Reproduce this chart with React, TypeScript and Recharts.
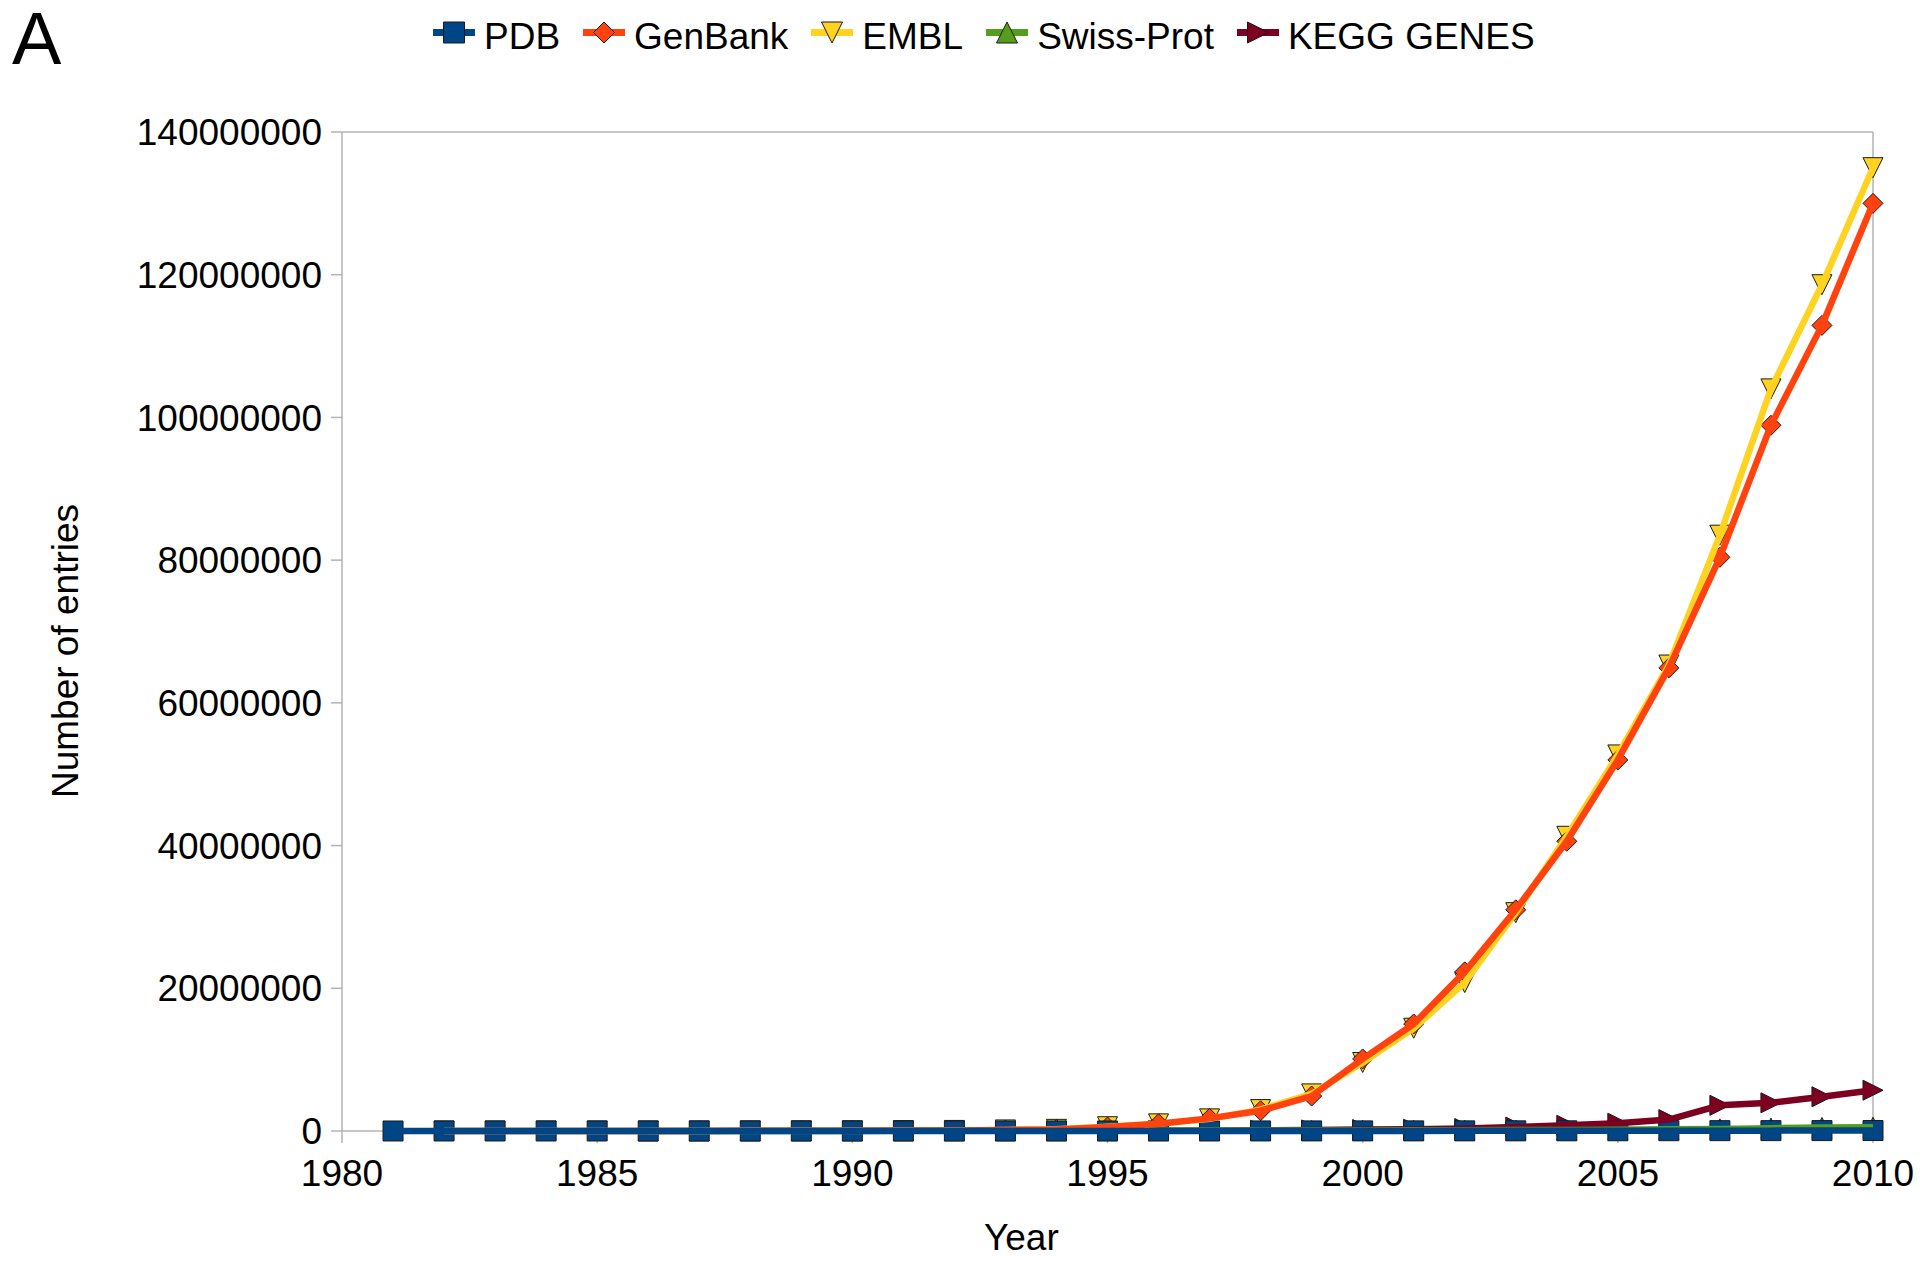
import React from 'react';
import { LineChart, Line, XAxis, YAxis, ReferenceLine } from 'recharts';

const years = [
  1981, 1982, 1983, 1984, 1985, 1986, 1987, 1988, 1989, 1990,
  1991, 1992, 1993, 1994, 1995, 1996, 1997, 1998, 1999, 2000,
  2001, 2002, 2003, 2004, 2005, 2006, 2007, 2008, 2009, 2010,
];

const pdb = [
  180, 200, 230, 250, 270, 300, 350, 400, 500, 750,
  1000, 1200, 1700, 3000, 4100, 5800, 7300, 9600, 12000, 14300,
  17000, 19500, 23000, 28000, 33000, 40000, 46000, 52000, 59000, 66000,
];

const genbank = [
  null, 600, 2400, 4200, 5700, 10000, 14600, 20600, 28800, 39500,
  55600, 78600, 143000, 215000, 560000, 1020000, 1770000, 2840000, 4900000, 10100000,
  15000000, 22300000, 31000000, 40600000, 52000000, 64900000, 80400000, 98900000, 112900000, 130000000,
];

const embl = [
  null, 600, 2400, 4200, 5800, 10000, 15000, 21000, 29000, 40000,
  56000, 80000, 150000, 230000, 600000, 1000000, 1700000, 3000000, 5200000, 9600000,
  14400000, 20800000, 30600000, 41300000, 52700000, 65300000, 83500000, 104000000, 118600000, 135000000,
];

const swissprot = [
  null, null, null, null, null, 3900, 6000, 8700, 12300, 15400,
  18400, 22600, 28100, 33300, 43500, 52200, 59000, 69100, 78000, 86600,
  95000, 110000, 130000, 150000, 180000, 230000, 290000, 400000, 500000, 520000,
];

const kegg = [
  null, null, null, null, null, null, null, null, null, null,
  null, null, null, null, null, 20000, 50000, 100000, 150000, 200000,
  250000, 350000, 550000, 800000, 1100000, 1600000, 3600000, 3950000, 4800000, 5720000,
];

const xTicks = [1980, 1985, 1990, 1995, 2000, 2005, 2010];
const yTicks = [0, 20000000, 40000000, 60000000, 80000000, 100000000, 120000000, 140000000];

const series = [
  { key: 'pdb', name: 'PDB', color: '#004586', shape: 'square' },
  { key: 'genbank', name: 'GenBank', color: '#ff420e', shape: 'diamond' },
  { key: 'embl', name: 'EMBL', color: '#ffd320', shape: 'down' },
  { key: 'swissprot', name: 'Swiss-Prot', color: '#579d1c', shape: 'up' },
  { key: 'kegg', name: 'KEGG GENES', color: '#7e0021', shape: 'right' },
];

const data = years.map((year, i) => ({
  year,
  pdb: pdb[i],
  genbank: genbank[i],
  embl: embl[i],
  swissprot: swissprot[i],
  kegg: kegg[i],
}));

const FONT = '"Liberation Sans", Arial, sans-serif';
const GRAY = '#b3b3b3';

const markerPath = (shape: string, cx: number, cy: number, r: number) => {
  switch (shape) {
    case 'square':
      return `M${cx - r},${cy - r}H${cx + r}V${cy + r}H${cx - r}Z`;
    case 'diamond':
      return `M${cx},${cy - r}L${cx + r},${cy}L${cx},${cy + r}L${cx - r},${cy}Z`;
    case 'down':
      return `M${cx - r},${cy - r}L${cx + r},${cy - r}L${cx},${cy + r}Z`;
    case 'up':
      return `M${cx - r},${cy + r}L${cx + r},${cy + r}L${cx},${cy - r}Z`;
    default:
      return `M${cx - r},${cy - r}L${cx + r},${cy}L${cx - r},${cy + r}Z`;
  }
};

const makeDot = (shape: string, color: string) => (props: any) => {
  const { cx, cy, index, value } = props;
  if (cx == null || cy == null || value == null) return <g key={`d-${index}`} />;
  return (
    <path
      key={`d-${index}`}
      d={markerPath(shape, cx, cy, 10)}
      fill={color}
      stroke="#1a1a1a"
      strokeWidth={1}
    />
  );
};

const YearTitle = () => (
  <text x={984} y={1250} fontSize={37} fill="#000" fontFamily={FONT}>
    Year
  </text>
);

const EntriesTitle = () => (
  <text
    x={78}
    y={651}
    fontSize={37}
    fill="#000"
    fontFamily={FONT}
    textAnchor="middle"
    transform="rotate(-90 78 651)"
  >
    Number of entries
  </text>
);

const LegendRow = () => (
  <div
    style={{
      position: 'absolute',
      left: 433,
      top: 17,
      height: 40,
      display: 'flex',
      alignItems: 'center',
      fontSize: 37,
      lineHeight: '40px',
      whiteSpace: 'nowrap',
    }}
  >
    {series.map((s) => (
      <div key={s.key} style={{ display: 'flex', alignItems: 'center', marginRight: 23 }}>
        <svg width={42} height={40} style={{ marginRight: 9, display: 'block' }}>
          <line x1={0} y1={15.5} x2={42} y2={15.5} stroke={s.color} strokeWidth={7} />
          <path d={markerPath(s.shape, 21, 15.5, 10.5)} fill={s.color} stroke="#1a1a1a" strokeWidth={1} />
        </svg>
        <span>{s.name}</span>
      </div>
    ))}
  </div>
);

const App = () => {
  // the first legend entry is painted last, on top
  const drawOrder = [...series].reverse();
  return (
    <div style={{ position: 'relative', width: 1926, height: 1267, fontFamily: FONT, background: '#fff' }}>
      <style>{'body { margin: 0; }'}</style>
      <div style={{ position: 'absolute', left: 12, top: -4, fontSize: 74, lineHeight: '86px' }}>A</div>
      <LegendRow />
      <LineChart
        width={1926}
        height={1267}
        data={data}
        margin={{ top: 132, right: 53, bottom: 76, left: 42 }}
      >
        <XAxis
          dataKey="year"
          type="number"
          domain={[1980, 2010]}
          ticks={xTicks}
          height={60}
          tickSize={12}
          tickMargin={17}
          axisLine={{ stroke: GRAY, strokeWidth: 1.5 }}
          tickLine={{ stroke: GRAY, strokeWidth: 1.5 }}
          tick={{ fontSize: 37, fill: '#000', fontFamily: FONT }}
          label={<YearTitle />}
        />
        <YAxis
          type="number"
          domain={[0, 140000000]}
          ticks={yTicks}
          width={300}
          tickSize={11}
          tickMargin={9}
          axisLine={{ stroke: GRAY, strokeWidth: 1.5 }}
          tickLine={{ stroke: GRAY, strokeWidth: 1.5 }}
          tick={{ fontSize: 37, fill: '#000', fontFamily: FONT }}
          tickFormatter={(v: number) => String(v)}
          label={<EntriesTitle />}
        />
        <ReferenceLine y={140000000} stroke={GRAY} strokeWidth={1.5} />
        <ReferenceLine x={2010} stroke={GRAY} strokeWidth={1.5} />
        {drawOrder.map((s, i) => (
          <Line
            key={s.key}
            type="linear"
            dataKey={s.key}
            name={s.name}
            stroke={s.color}
            strokeWidth={6.5}
            strokeLinejoin="round"
            dot={makeDot(s.shape, s.color)}
            activeDot={false}
            isAnimationActive={false}
            zIndex={700 + i}
          />
        ))}
      </LineChart>
    </div>
  );
};

export default App;
